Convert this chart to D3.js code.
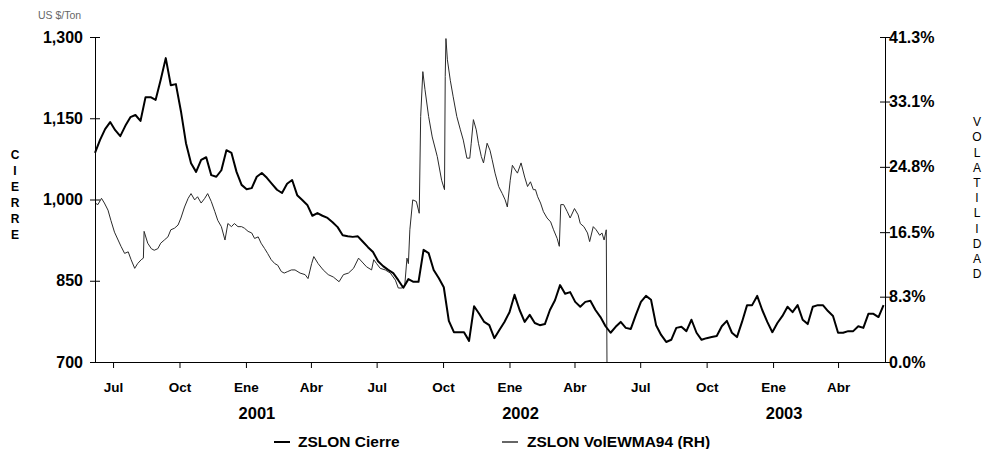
<!DOCTYPE html>
<html>
<head>
<meta charset="utf-8">
<script src="https://cdn.jsdelivr.net/npm/d3@7"></script>
<style>
  body { margin: 0; background: #fff; }
  svg { display: block; }
  text { font-family: "Liberation Sans", Arial, sans-serif; }
</style>
</head>
<body>
<svg id="chart" width="985" height="449"></svg>
<script>
// Weekly closing price (US $/Ton), one value per week starting on closeStart
const closeStart = "2000-06-06";
const closeWeekly = [
  1086, 1110, 1130, 1143, 1128, 1117, 1136, 1152, 1156, 1145,
  1189, 1189, 1184, 1221, 1261, 1211, 1213, 1163, 1104, 1067,
  1051, 1073, 1078, 1045, 1042, 1054, 1091, 1086, 1051, 1027,
  1019, 1021, 1042, 1049, 1040, 1029, 1018, 1012, 1029, 1036,
  1008, 999, 990, 970, 975, 970, 966, 958, 949, 934,
  932, 931, 932, 922, 912, 903, 886, 877, 870, 864,
  851, 837, 853, 848, 848, 907, 901, 870, 855, 838,
  776, 755, 755, 755, 739, 803, 789, 774, 768, 744,
  759, 774, 792, 824, 796, 774, 787, 772, 768, 770,
  796, 814, 842, 826, 829, 811, 802, 811, 813, 796,
  783, 766, 754, 765, 774, 763, 761, 787, 811, 822,
  815, 768, 750, 737, 741, 763, 765, 757, 778, 754,
  741, 744, 746, 748, 766, 776, 754, 746, 774, 805,
  805, 822, 796, 774, 755, 772, 785, 802, 792, 805,
  778, 770, 802, 805, 805, 794, 785, 754, 754, 757,
  757, 766, 763, 789, 789, 783, 805
];

// EWMA volatility (%), right-hand scale
const volDates = [
  "2000-06-06","2000-06-10","2000-06-15","2000-06-19","2000-06-24","2000-06-28",
  "2000-07-03","2000-07-08","2000-07-12","2000-07-17","2000-07-22","2000-07-26",
  "2000-07-31","2000-08-04","2000-08-09","2000-08-12","2000-08-13","2000-08-18",
  "2000-08-23","2000-08-27","2000-09-01","2000-09-05","2000-09-10","2000-09-15",
  "2000-09-19","2000-09-24","2000-09-29","2000-10-03","2000-10-08","2000-10-13",
  "2000-10-17","2000-10-22","2000-10-26","2000-10-31","2000-11-05","2000-11-09",
  "2000-11-14","2000-11-19","2000-11-23","2000-11-28","2000-12-03","2000-12-07",
  "2000-12-12","2000-12-16","2000-12-21","2000-12-26","2000-12-30","2001-01-04",
  "2001-01-09","2001-01-13","2001-01-18","2001-01-22","2001-01-27","2001-01-31",
  "2001-02-05","2001-02-10","2001-02-14","2001-02-19","2001-02-23","2001-02-28",
  "2001-03-05","2001-03-10","2001-03-17","2001-03-24","2001-03-28","2001-04-02",
  "2001-04-05","2001-04-11","2001-04-18","2001-04-25","2001-05-02","2001-05-10",
  "2001-05-16","2001-05-23","2001-05-30","2001-06-06","2001-06-11","2001-06-17",
  "2001-06-24","2001-06-27","2001-07-01","2001-07-06","2001-07-13","2001-07-20",
  "2001-07-27","2001-07-31","2001-08-05","2001-08-09","2001-08-12","2001-08-14",
  "2001-08-16","2001-08-20","2001-08-25","2001-08-29","2001-08-31","2001-09-03",
  "2001-09-06","2001-09-11","2001-09-16","2001-09-23","2001-09-29","2001-10-03",
  "2001-10-04","2001-10-05","2001-10-07","2001-10-11","2001-10-15","2001-10-20",
  "2001-10-25","2001-10-29","2001-11-03","2001-11-07","2001-11-09","2001-11-12",
  "2001-11-16","2001-11-19","2001-11-23","2001-11-26","2001-12-01","2001-12-05",
  "2001-12-08","2001-12-12","2001-12-17","2001-12-22","2001-12-26","2001-12-29",
  "2002-01-02","2002-01-05","2002-01-09","2002-01-12","2002-01-17","2002-01-22",
  "2002-01-26","2002-01-30","2002-02-03","2002-02-06","2002-02-09","2002-02-13",
  "2002-02-17","2002-02-22","2002-02-27","2002-03-03","2002-03-08","2002-03-11",
  "2002-03-13","2002-03-17","2002-03-22","2002-03-26","2002-04-01","2002-04-06",
  "2002-04-09","2002-04-14","2002-04-19","2002-04-22","2002-04-27","2002-05-01",
  "2002-05-06","2002-05-09","2002-05-12","2002-05-15","2002-05-16"
];
const volValues = [
  20.2, 20.0, 20.8, 20.2, 19.3, 18.0,
  16.5, 15.5, 14.7, 13.8, 14.0, 13.0,
  11.9, 12.5, 13.0, 13.2, 16.6, 15.1,
  14.4, 14.2, 14.4, 15.1, 15.5, 15.9,
  16.8, 17.0, 17.4, 18.3, 19.7, 20.8,
  21.4, 20.6, 21.0, 20.2, 20.8, 21.4,
  20.4, 19.1, 18.0, 17.2, 15.5, 17.6,
  17.2, 17.6, 17.2, 17.2, 17.0, 16.6,
  16.4, 15.7, 15.9, 15.1, 14.4, 13.8,
  13.0, 12.5, 12.3, 11.5, 11.3, 11.5,
  11.7, 11.7, 11.3, 11.1, 10.6, 12.5,
  13.4, 12.5, 11.7, 11.1, 10.8, 10.2,
  11.1, 11.3, 11.9, 13.2, 12.7, 12.1,
  11.7, 13.0, 12.5, 11.9, 11.7, 11.3,
  10.4, 9.4, 9.4, 9.8, 13.2, 12.5,
  16.8, 20.6, 20.4, 18.9, 31.2, 36.9,
  34.6, 31.2, 28.6, 26.1, 23.1, 21.9,
  36.3, 41.1, 38.4, 35.8, 33.7, 31.2,
  29.5, 28.2, 25.9, 25.9, 27.8, 30.8,
  29.5, 27.8, 26.1, 25.3, 27.8, 26.9,
  25.7, 24.0, 22.3, 21.4, 20.6, 19.7,
  23.1, 25.0, 24.4, 24.0, 25.3, 23.5,
  22.3, 22.9, 21.9, 21.9, 21.0, 20.2,
  19.1, 18.3, 17.8, 16.8, 15.7, 14.7,
  20.0, 20.0, 19.1, 18.3, 19.5, 18.7,
  17.6, 17.2, 16.4, 15.3, 17.2, 16.8,
  16.1, 16.4, 15.5, 16.8, 0
];

// Axis ticks and labels
const leftTicks = [700, 850, 1000, 1150, 1300];
const rightTicks = [0, 8.3, 16.5, 24.8, 33.1, 41.3];
const monthTickDates = [
  "2000-07-01","2000-10-01","2001-01-01","2001-04-01","2001-07-01","2001-10-01",
  "2002-01-01","2002-04-01","2002-07-01","2002-10-01","2003-01-01","2003-04-01"
];
const monthNames = ["Jul","Oct","Ene","Abr","Jul","Oct","Ene","Abr","Jul","Oct","Ene","Abr"];
const yearDates = ["2001-01-01","2002-01-01","2003-01-01"];
const yearNames = ["2001","2002","2003"];
const seriesNames = ["ZSLON Cierre", "ZSLON VolEWMA94 (RH)"];
const leftTitle = "CIERRE";
const rightTitle = "VOLATILIDAD";
const unitLabel = "US $/Ton";

const parse = d3.timeParse("%Y-%m-%d");
const svg = d3.select("#chart");
const FONT = "Liberation Sans, Arial, sans-serif";

const plot = { left: 95, right: 885, top: 37, bottom: 362 };

const x = d3.scaleTime()
  .domain([parse("2000-06-06"), parse("2003-06-05")])
  .range([plot.left, plot.right]);
const yL = d3.scaleLinear().domain([700, 1300]).range([plot.bottom, plot.top]);
const yR = d3.scaleLinear().domain([0, 41.3]).range([plot.bottom, plot.top]);

const start = parse(closeStart);
const closeData = closeWeekly.map((v, i) => ({ date: d3.timeDay.offset(start, 7 * i), value: v }));
const volData = volDates.map((d, i) => ({ date: parse(d), value: volValues[i] }));

// Volatility line (thin) drawn first, closing price on top
svg.append("path")
  .datum(volData)
  .attr("fill", "none")
  .attr("stroke", "#2a2a2a")
  .attr("stroke-width", 1)
  .attr("stroke-linejoin", "round")
  .attr("d", d3.line().x(d => x(d.date)).y(d => yR(d.value)));

svg.append("path")
  .datum(closeData)
  .attr("fill", "none")
  .attr("stroke", "#000")
  .attr("stroke-width", 2)
  .attr("stroke-linejoin", "round")
  .attr("d", d3.line().x(d => x(d.date)).y(d => yL(d.value)));

// Left axis
const gL = svg.append("g")
  .attr("transform", `translate(${plot.left},0)`)
  .call(d3.axisLeft(yL).tickValues(leftTicks).tickFormat(d3.format(",")).tickSize(5).tickSizeOuter(0));
gL.selectAll(".tick line").attr("x1", 5).attr("x2", -5).attr("stroke", "#000");
gL.selectAll(".tick text").attr("x", -12).attr("font-size", 16).attr("font-weight", "bold")
  .attr("font-family", FONT).attr("fill", "#000");
gL.select(".domain").attr("stroke", "#000");

// Right axis
const gR = svg.append("g")
  .attr("transform", `translate(${plot.right},0)`)
  .call(d3.axisRight(yR).tickValues(rightTicks).tickFormat(d => d.toFixed(1) + "%").tickSize(5).tickSizeOuter(0));
gR.selectAll(".tick line").attr("x1", -5).attr("x2", 5).attr("stroke", "#000");
gR.selectAll(".tick text").attr("x", 4).attr("font-size", 16).attr("font-weight", "bold")
  .attr("font-family", FONT).attr("fill", "#000");
gR.select(".domain").attr("stroke", "#000");

// Bottom axis
const gB = svg.append("g")
  .attr("transform", `translate(0,${plot.bottom})`)
  .call(d3.axisBottom(x).tickValues(monthTickDates.map(parse))
    .tickFormat((d, i) => monthNames[i]).tickSize(6).tickSizeOuter(0));
gB.selectAll(".tick line").attr("stroke", "#000");
gB.selectAll(".tick text").attr("y", 25).attr("dy", "0.35em").attr("font-size", 13.5)
  .attr("font-weight", "bold").attr("font-family", FONT).attr("fill", "#000");
gB.select(".domain").attr("stroke", "#000");

// Year labels
svg.append("g").selectAll("text")
  .data(yearDates)
  .join("text")
  .attr("x", d => x(parse(d)) + 11)
  .attr("y", 413)
  .attr("dy", "0.35em")
  .attr("text-anchor", "middle")
  .attr("font-size", 16.5)
  .attr("font-weight", "bold")
  .text((d, i) => yearNames[i]);

// Unit label
svg.append("text")
  .attr("x", 38).attr("y", 19)
  .attr("font-size", 10.5)
  .attr("fill", "#666")
  .text(unitLabel);

// Vertical axis titles, one letter per row
svg.append("g").selectAll("text")
  .data(leftTitle.split(""))
  .join("text")
  .attr("x", 15)
  .attr("y", (d, i) => 155 + i * 16)
  .attr("dy", "0.35em")
  .attr("text-anchor", "middle")
  .attr("font-size", 12)
  .attr("font-weight", "bold")
  .text(d => d);

svg.append("g").selectAll("text")
  .data(rightTitle.split(""))
  .join("text")
  .attr("x", 977)
  .attr("y", (d, i) => 122 + i * 15.2)
  .attr("dy", "0.35em")
  .attr("text-anchor", "middle")
  .attr("font-size", 12)
  .text(d => d);

// Legend
const legend = [
  { name: seriesNames[0], x1: 274, x2: 290, tx: 298, w: 2 },
  { name: seriesNames[1], x1: 502, x2: 518, tx: 527, w: 1.2 }
];
const lg = svg.append("g");
lg.selectAll("line").data(legend).join("line")
  .attr("x1", d => d.x1).attr("x2", d => d.x2)
  .attr("y1", 442).attr("y2", 442)
  .attr("stroke", "#000").attr("stroke-width", d => d.w);
lg.selectAll("text").data(legend).join("text")
  .attr("x", d => d.tx).attr("y", 442).attr("dy", "0.35em")
  .attr("font-size", 15.5).attr("font-weight", "bold")
  .text(d => d.name);
</script>
</body>
</html>
